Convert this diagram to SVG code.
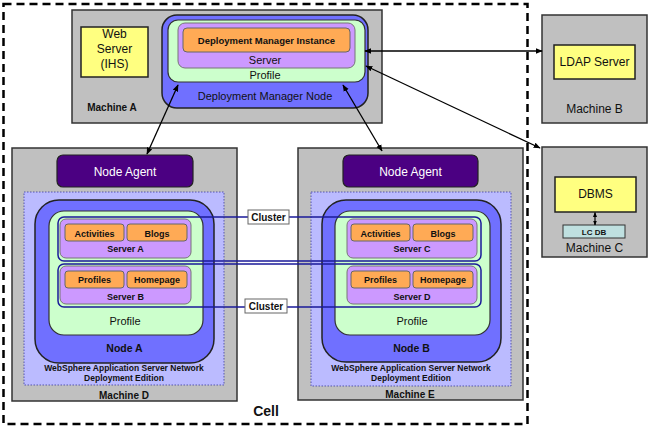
<svg xmlns="http://www.w3.org/2000/svg" width="650" height="428" viewBox="0 0 650 428">
<defs>
<marker id="ah" viewBox="0 0 10 10" refX="9" refY="5" markerWidth="7" markerHeight="7" orient="auto-start-reverse" markerUnits="userSpaceOnUse">
<path d="M0,1 L10,5 L0,9 z" fill="#000"/>
</marker>
<marker id="ahs" viewBox="0 0 10 10" refX="9" refY="5" markerWidth="5" markerHeight="5" orient="auto-start-reverse" markerUnits="userSpaceOnUse">
<path d="M0,1 L10,5 L0,9 z" fill="#000"/>
</marker>
<style>
.mach{fill:#c0c0c0;stroke:#333;stroke-width:1.5}
.yel{fill:#ffff80;stroke:#222;stroke-width:1.5}
.node{fill:#7070ff;stroke:#222;stroke-width:1.5}
.prof{fill:#ccffcc;stroke:#333;stroke-width:1.2}
.srv{fill:#cc99ff;stroke:#777;stroke-width:1}
.comp{fill:#ffaa55;stroke:#666;stroke-width:1}
.agent{fill:#4b0082;stroke:#222;stroke-width:1.2}
.was{fill:#bbbbff;stroke:#5555aa;stroke-width:1;stroke-dasharray:1.5,1.5}
.clus{fill:none;stroke:#1a1a99;stroke-width:1.5}
.clab{fill:#fff;stroke:#666;stroke-width:1}
.lcdb{fill:#bfe0e0;stroke:#333;stroke-width:1}
.conn{stroke:#000;stroke-width:1.3;fill:none;marker-start:url(#ah);marker-end:url(#ah)}
.conns{stroke:#000;stroke-width:1.2;fill:none;marker-start:url(#ahs);marker-end:url(#ahs)}
text{font-family:"Liberation Sans",Arial,sans-serif;fill:#111;text-anchor:middle}
.b{font-weight:bold}
.w{fill:#fff}
</style>
</defs>

<rect x="3.5" y="4" width="524" height="420" fill="none" stroke="#000" stroke-width="2.5" stroke-dasharray="8,5"/>
<text x="266" y="416" class="b" font-size="14">Cell</text>

<g id="machineA">
<rect class="mach" x="72" y="10" width="310" height="113"/>
<text x="112" y="111" class="b" font-size="10">Machine A</text>
</g>
<g id="webserver">
<rect class="yel" x="81" y="27" width="67" height="50"/>
<text x="114.5" y="38" font-size="12">Web</text>
<text x="114.5" y="53" font-size="12">Server</text>
<text x="114.5" y="68" font-size="12">(IHS)</text>
</g>
<g id="dmnode">
<rect class="node" x="162" y="15" width="206" height="93" rx="15"/>
<text x="265" y="100" font-size="11">Deployment Manager Node</text>
<rect class="prof" x="168" y="20" width="197" height="62" rx="10"/>
<text x="265" y="79" font-size="11">Profile</text>
<rect class="srv" x="178" y="23" width="177" height="45" rx="7"/>
<text x="265" y="64" font-size="11">Server</text>
<rect class="comp" x="183" y="28" width="167" height="24" rx="4"/>
<text x="266.5" y="43.5" class="b" font-size="9.5">Deployment Manager Instance</text>
</g>

<g id="machineB">
<rect class="mach" x="542" y="15" width="105" height="108"/>
<rect class="yel" x="554" y="45" width="81" height="34"/>
<text x="594.5" y="66" font-size="12">LDAP Server</text>
<text x="594.5" y="113" font-size="12">Machine B</text>
</g>

<g id="machineC">
<rect class="mach" x="542" y="147" width="105" height="110"/>
<rect class="yel" x="555" y="177" width="81" height="35"/>
<text x="595.5" y="198" font-size="12">DBMS</text>
<rect class="lcdb" x="563" y="225" width="62" height="13"/>
<text x="594" y="234.5" class="b" font-size="8">LC DB</text>
<text x="594.5" y="251.5" font-size="12">Machine C</text>
</g>

<g id="machineD">
<rect class="mach" x="12" y="148" width="225" height="253"/>
<text x="124" y="399" class="b" font-size="10">Machine D</text>
<rect class="agent" x="57" y="155" width="136" height="32" rx="6"/>
<text x="125" y="175.5" class="w" font-size="12">Node Agent</text>
<rect class="was" x="24" y="192" width="200" height="193"/>
<text x="124" y="371" class="b" font-size="8.5">WebSphere Application Server Network</text>
<text x="124" y="380.5" class="b" font-size="8.5">Deployment Edition</text>
<rect class="node" x="35" y="200" width="179" height="163" rx="24"/>
<text x="124.5" y="352" class="b" font-size="10.5">Node A</text>
<rect class="prof" x="49" y="211" width="154" height="124" rx="15"/>
<text x="125" y="325" font-size="11">Profile</text>
<rect class="srv" x="60" y="219" width="131" height="39" rx="6"/>
<rect class="comp" x="65" y="224" width="59" height="17" rx="3"/>
<rect class="comp" x="127" y="224" width="60" height="17" rx="3"/>
<text x="94.5" y="236.5" class="b" font-size="9">Activities</text>
<text x="157" y="236.5" class="b" font-size="9">Blogs</text>
<text x="125.5" y="252" class="b" font-size="9">Server A</text>
<rect class="srv" x="60" y="266" width="131" height="38" rx="6"/>
<rect class="comp" x="65" y="271" width="59" height="17" rx="3"/>
<rect class="comp" x="127" y="271" width="60" height="17" rx="3"/>
<text x="94.5" y="283" class="b" font-size="9">Profiles</text>
<text x="157" y="283" class="b" font-size="9">Homepage</text>
<text x="125.5" y="300" class="b" font-size="9">Server B</text>
</g>

<g id="machineE">
<rect class="mach" x="298" y="148" width="225" height="252"/>
<text x="410" y="398" class="b" font-size="10">Machine E</text>
<rect class="agent" x="343" y="155" width="135" height="32" rx="6"/>
<text x="410.5" y="175.5" class="w" font-size="12">Node Agent</text>
<rect class="was" x="311" y="192" width="200" height="194"/>
<text x="411" y="371" class="b" font-size="8.5">WebSphere Application Server Network</text>
<text x="411" y="380.5" class="b" font-size="8.5">Deployment Edition</text>
<rect class="node" x="322" y="200" width="179" height="162" rx="24"/>
<text x="411.5" y="352" class="b" font-size="10.5">Node B</text>
<rect class="prof" x="335" y="211" width="155" height="124" rx="15"/>
<text x="412" y="325" font-size="11">Profile</text>
<rect class="srv" x="347" y="219" width="130" height="39" rx="6"/>
<rect class="comp" x="351" y="224" width="59" height="17" rx="3"/>
<rect class="comp" x="413" y="224" width="60" height="17" rx="3"/>
<text x="380.5" y="236.5" class="b" font-size="9">Activities</text>
<text x="443" y="236.5" class="b" font-size="9">Blogs</text>
<text x="412" y="252" class="b" font-size="9">Server C</text>
<rect class="srv" x="347" y="266" width="130" height="38" rx="6"/>
<rect class="comp" x="351" y="271" width="59" height="17" rx="3"/>
<rect class="comp" x="413" y="271" width="60" height="17" rx="3"/>
<text x="380.5" y="283" class="b" font-size="9">Profiles</text>
<text x="443" y="283" class="b" font-size="9">Homepage</text>
<text x="412" y="300" class="b" font-size="9">Server D</text>
</g>

<g id="clusters">
<rect class="clus" x="58" y="217" width="423" height="44" rx="6"/>
<rect class="clus" x="58" y="264" width="423" height="43" rx="6"/>
<rect class="clab" x="248" y="210" width="41" height="14"/>
<text x="268.5" y="220.5" class="b" font-size="10">Cluster</text>
<rect class="clab" x="245" y="299" width="42" height="14"/>
<text x="266" y="309.5" class="b" font-size="10">Cluster</text>
</g>

<g id="connectors">
<line class="conn" x1="178" y1="85" x2="147" y2="154"/>
<line class="conn" x1="343" y1="85" x2="382" y2="151"/>
<line class="conn" x1="365" y1="51" x2="542" y2="51"/>
<line class="conn" x1="366" y1="66" x2="540" y2="148"/>
<line class="conns" x1="595" y1="212.5" x2="595" y2="225"/>
</g>
</svg>
